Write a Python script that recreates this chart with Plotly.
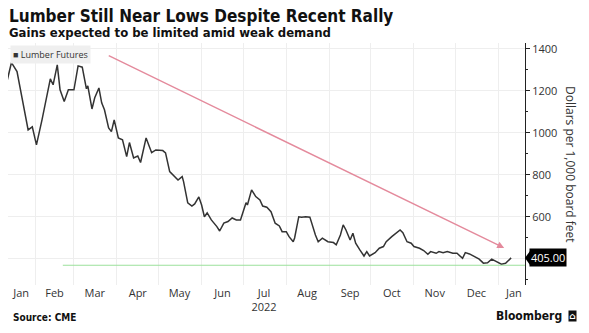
import plotly.graph_objects as go

# Lumber futures, USD per 1,000 board feet
dates = [
    "2022-01-12", "2022-01-15", "2022-01-19", "2022-01-27", "2022-01-30", "2022-01-31",
    "2022-02-02", "2022-02-06", "2022-02-12", "2022-02-14", "2022-02-17", "2022-02-19",
    "2022-02-22", "2022-02-25", "2022-03-01", "2022-03-04", "2022-03-07", "2022-03-10",
    "2022-03-11", "2022-03-14", "2022-03-16", "2022-03-19", "2022-03-21", "2022-03-23",
    "2022-03-26", "2022-03-28", "2022-03-30", "2022-04-02", "2022-04-05", "2022-04-08",
    "2022-04-10", "2022-04-13", "2022-04-16", "2022-04-18", "2022-04-22", "2022-04-26",
    "2022-04-29", "2022-05-04", "2022-05-06", "2022-05-09", "2022-05-13", "2022-05-15",
    "2022-05-18", "2022-05-19", "2022-05-22", "2022-05-25", "2022-05-27", "2022-05-30",
    "2022-06-01", "2022-06-03", "2022-06-05", "2022-06-08", "2022-06-12", "2022-06-14",
    "2022-06-17", "2022-06-20", "2022-06-23", "2022-06-26", "2022-06-29", "2022-07-03",
    "2022-07-04", "2022-07-07", "2022-07-10", "2022-07-13", "2022-07-15", "2022-07-18",
    "2022-07-21", "2022-07-24", "2022-07-27", "2022-07-29", "2022-08-01", "2022-08-03",
    "2022-08-06", "2022-08-07", "2022-08-10", "2022-08-12", "2022-08-15", "2022-08-18",
    "2022-08-22", "2022-08-24", "2022-08-27", "2022-08-29", "2022-08-31", "2022-09-04",
    "2022-09-06", "2022-09-09", "2022-09-11", "2022-09-13", "2022-09-16", "2022-09-18",
    "2022-09-20", "2022-09-23", "2022-09-26", "2022-09-28", "2022-09-30", "2022-10-04",
    "2022-10-07", "2022-10-10", "2022-10-12", "2022-10-16", "2022-10-19", "2022-10-22",
    "2022-10-24", "2022-10-27", "2022-10-30", "2022-11-01", "2022-11-05", "2022-11-08",
    "2022-11-11", "2022-11-13", "2022-11-17", "2022-11-19", "2022-11-22", "2022-11-25",
    "2022-11-29", "2022-12-02", "2022-12-06", "2022-12-08", "2022-12-11", "2022-12-14",
    "2022-12-18", "2022-12-21", "2022-12-24", "2022-12-27", "2022-12-30", "2023-01-03",
    "2023-01-06", "2023-01-10",
]
prices = [
    1252, 1335, 1292, 1014, 1029, 1000,
    943, 1062, 1257, 1229, 1324, 1205,
    1149, 1205, 1205, 1319, 1313, 1210,
    1224, 1114, 1167, 1214, 1143, 1110,
    1024, 1006, 1062, 976, 967, 887,
    954, 881, 890, 859, 976, 906,
    919, 916, 905, 816, 792, 776,
    792, 768, 667, 652, 662, 695,
    657, 601, 619, 586, 554, 533,
    571, 578, 595, 586, 586, 668,
    657, 729, 697, 681, 652, 646,
    625, 570, 557, 530, 530, 506,
    482, 500, 601, 599, 601, 599,
    514, 482, 499, 490, 482, 478,
    467, 514, 562, 538, 490, 522,
    475, 443, 414, 435, 414, 430,
    451, 459, 482, 506, 522, 538,
    525, 482, 475, 459, 451, 440,
    422, 435, 427, 435, 430, 435,
    427, 427, 403, 430, 424, 414,
    399, 380, 382, 399, 387, 375,
    379, 405,
]

# Month labels sit in the middle of each visible month; gridlines at month starts
month_label_dates = [
    "2022-01-22", "2022-02-15", "2022-03-16", "2022-04-16", "2022-05-16", "2022-06-16",
    "2022-07-16", "2022-08-16", "2022-09-16", "2022-10-16", "2022-11-16", "2022-12-16",
    "2023-01-12",
]
month_labels = ["Jan", "Feb", "Mar", "Apr", "May", "Jun", "Jul<br>2022", "Aug", "Sep",
                "Oct", "Nov", "Dec", "Jan"]
month_starts = [
    "2022-02-01", "2022-03-01", "2022-04-01", "2022-05-01", "2022-06-01", "2022-07-01",
    "2022-08-01", "2022-09-01", "2022-10-01", "2022-11-01", "2022-12-01", "2023-01-01",
]

y_ticks = [400, 600, 800, 1000, 1200, 1400]
y_tick_text = ["", "600", "800", "1000", "1200", "1400"]

# Trend arrow and support level
trend_start = ("2022-03-25", 1371)
trend_end = ("2023-01-05", 452)
support_level = 370
support_start = "2022-02-21"

x_range = ["2022-01-12 12:00", "2023-01-20"]
y_range = [276, 1428]

last_price = prices[-1]

TICK_FONT = "Open Sans"
HEAD_FONT = "DejaVu Sans Condensed"

fig = go.Figure()

fig.add_trace(go.Scatter(
    x=dates, y=prices, mode="lines",
    line=dict(color="#333333", width=1.5),
    name="Lumber Futures", showlegend=False,
))

# Support level line
fig.add_trace(go.Scatter(
    x=[support_start, x_range[1]], y=[support_level, support_level], mode="lines",
    line=dict(color="#9be09b", width=1.2), showlegend=False, hoverinfo="skip",
))

fig.update_layout(
    width=589, height=333,
    margin=dict(l=8, r=64, t=43, b=48),
    paper_bgcolor="white", plot_bgcolor="white",
    font=dict(family=TICK_FONT, color="#333333", size=11),
    xaxis=dict(
        type="date", range=x_range,
        tickmode="array", tickvals=month_label_dates, ticktext=month_labels,
        showgrid=False, ticks="", showline=False, zeroline=False,
        tickfont=dict(family=TICK_FONT, size=11, color="#333333"),
        minor=dict(tickmode="array", tickvals=month_starts, showgrid=True,
                   gridcolor="#eeeeee", gridwidth=1, ticks=""),
        fixedrange=True,
    ),
    yaxis=dict(
        side="right", range=y_range,
        tickmode="array", tickvals=y_ticks, ticktext=y_tick_text,
        showgrid=True, gridcolor="#eeeeee", gridwidth=1,
        showline=True, linecolor="#222222", linewidth=1,
        ticks="outside", ticklen=4, tickcolor="#222222",
        minor=dict(dtick=100, ticks="outside", ticklen=2, tickcolor="#222222", showgrid=False),
        tickfont=dict(family=TICK_FONT, size=11, color="#333333"),
        zeroline=False, fixedrange=True,
    ),
    showlegend=False,
)

annotations = [
    # Title and subtitle
    dict(text="<b>Lumber Still Near Lows Despite Recent Rally</b>", xref="paper", yref="paper",
         x=0, y=1, xanchor="left", yanchor="middle", xshift=-1, yshift=27,
         showarrow=False, font=dict(family=HEAD_FONT, size=17, color="#111111")),
    dict(text="<b>Gains expected to be limited amid weak demand</b>", xref="paper", yref="paper",
         x=0, y=1, xanchor="left", yanchor="middle", xshift=-1, yshift=11,
         showarrow=False, font=dict(family=HEAD_FONT, size=13, color="#111111")),
    # Legend chip
    dict(text="■ Lumber Futures", xref="paper", yref="paper", x=0, y=1,
         xanchor="left", yanchor="top", xshift=2, yshift=-2,
         showarrow=False, bgcolor="#efefef", borderpad=2,
         font=dict(family=TICK_FONT, size=9, color="#333333")),
    # Right axis title
    dict(text="Dollars per 1,000 board feet", xref="paper", yref="paper",
         x=1, y=0.5, xanchor="center", yanchor="middle", xshift=46, yshift=0,
         textangle=90, showarrow=False,
         font=dict(family=TICK_FONT, size=12, color="#333333")),
    # Last value tag
    dict(text=f"{last_price:.2f}", xref="paper", yref="y", x=1, y=last_price,
         xanchor="left", yanchor="middle", xshift=4, showarrow=False,
         bgcolor="#000000", borderpad=1,
         font=dict(family=TICK_FONT, size=11, color="white")),
    # Trend arrow
    dict(text="", x=trend_end[0], y=trend_end[1], ax=trend_start[0], ay=trend_start[1],
         xref="x", yref="y", axref="x", ayref="y", showarrow=True,
         arrowhead=2, arrowsize=1, arrowwidth=1.4, arrowcolor="#e48a9c"),
    # Footer
    dict(text="<b>Source: CME</b>", xref="paper", yref="paper", x=0, y=0,
         xanchor="left", yanchor="middle", xshift=3, yshift=-32,
         showarrow=False, font=dict(family=HEAD_FONT, size=10, color="#111111")),
    dict(text="<b>Bloomberg</b>", xref="paper", yref="paper", x=1, y=0,
         xanchor="right", yanchor="middle", xshift=39, yshift=-31,
         showarrow=False, font=dict(family=HEAD_FONT, size=12, color="#111111")),
    dict(text="<b>⌂</b>", xref="paper", yref="paper", x=1, y=0,
         xanchor="left", yanchor="middle", xshift=43, yshift=-31,
         showarrow=False, bgcolor="#111111", borderpad=0,
         font=dict(family="DejaVu Sans", size=9, color="white")),
]
fig.update_layout(annotations=annotations)

# Pointer on the last value tag
fig.add_shape(type="path", xref="paper", yref="y", xsizemode="pixel", ysizemode="pixel",
              xanchor=1, yanchor=last_price,
              path="M 0,0 L 5,-7 L 5,7 Z", fillcolor="#000000", line=dict(width=0))

fig.write_html("out.html")
